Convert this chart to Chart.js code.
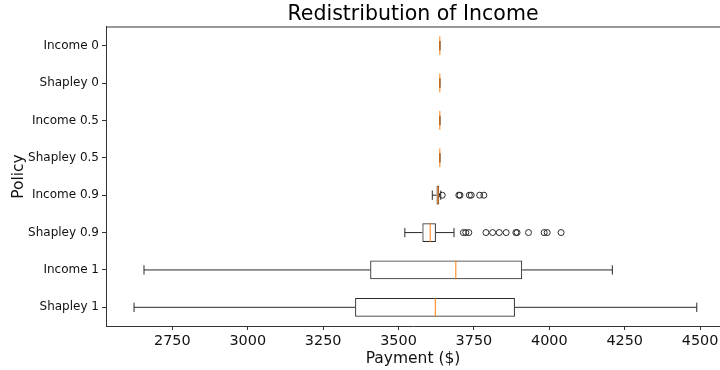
<!DOCTYPE html>
<html>
<head>
<meta charset="utf-8">
<script src="https://cdn.jsdelivr.net/npm/chart.js@4"></script>
<style>
  html, body { margin: 0; padding: 0; background: #fff; overflow: hidden; }
</style>
</head>
<body>
<canvas id="chart" width="720" height="370"></canvas>
<script>
const categories = ['Income 0', 'Shapley 0', 'Income 0.5', 'Shapley 0.5', 'Income 0.9', 'Shapley 0.9', 'Income 1', 'Shapley 1'];
const whiskerLow  = [3637, 3637, 3637, 3637, 3612, 3521, 2656, 2623];
const q1          = [3637, 3637, 3637, 3637, 3626, 3579, 3406, 3356];
const median      = [3637, 3637, 3637, 3637, 3631, 3605, 3690, 3622];
const q3          = [3637, 3637, 3637, 3637, 3635, 3624, 3910, 3886];
const whiskerHigh = [3637, 3637, 3637, 3637, 3640, 3684, 4209, 4489];
const outliersIncome09  = [3645, 3700, 3704, 3735, 3741, 3769, 3783];
const outliersShapley09 = [3715, 3723, 3733, 3790, 3812, 3834, 3857, 3889, 3893, 3931, 3983, 3993, 4039];
const xTicks = [2750, 3000, 3250, 3500, 3750, 4000, 4250, 4500];

const FONT = 'DejaVu Sans';
const EDGE = '#2a2a2a';

// whiskers, caps, medians and the top frame line (matplotlib style box)
const boxExtras = {
    id: 'boxExtras',
    afterDatasetsDraw(chart) {
        const { ctx, chartArea, scales: { x, y } } = chart;
        const bars = chart.getDatasetMeta(0).data;
        ctx.save();
        ctx.lineWidth = 1;
        categories.forEach((c, i) => {
            const cy = y.getPixelForValue(i);
            const h = bars[i].height;
            const cap = h / 4;
            const xl = x.getPixelForValue(whiskerLow[i]);
            const x1 = x.getPixelForValue(q1[i]);
            const x3 = x.getPixelForValue(q3[i]);
            const xh = x.getPixelForValue(whiskerHigh[i]);
            ctx.strokeStyle = EDGE;
            ctx.beginPath();
            ctx.moveTo(xl, cy); ctx.lineTo(x1, cy);
            ctx.moveTo(x3, cy); ctx.lineTo(xh, cy);
            ctx.moveTo(xl, cy - cap); ctx.lineTo(xl, cy + cap);
            ctx.moveTo(xh, cy - cap); ctx.lineTo(xh, cy + cap);
            ctx.stroke();
            const xm = x.getPixelForValue(median[i]);
            ctx.strokeStyle = '#ff7f0e';
            ctx.beginPath();
            ctx.moveTo(xm, cy - h / 2); ctx.lineTo(xm, cy + h / 2);
            ctx.stroke();
        });
        ctx.strokeStyle = '#333';
        ctx.beginPath();
        ctx.moveTo(chartArea.left, chartArea.top);
        ctx.lineTo(chartArea.right, chartArea.top);
        ctx.stroke();
        ctx.restore();
    }
};

new Chart(document.getElementById('chart'), {
    type: 'bar',
    data: {
        labels: categories,
        datasets: [{
            data: categories.map((c, i) => [q1[i], q3[i]]),
            backgroundColor: 'rgba(0,0,0,0)',
            borderColor: EDGE,
            borderWidth: 1,
            borderSkipped: false,
            barPercentage: 0.5,
            categoryPercentage: 1,
        }, {
            type: 'scatter',
            data: [
                ...outliersIncome09.map(v => ({ x: v, y: 'Income 0.9' })),
                ...outliersShapley09.map(v => ({ x: v, y: 'Shapley 0.9' })),
            ],
            pointStyle: 'circle',
            pointRadius: 3,
            pointBackgroundColor: 'rgba(0,0,0,0)',
            pointBorderColor: EDGE,
            pointBorderWidth: 1,
        }],
    },
    options: {
        indexAxis: 'y',
        responsive: false,
        animation: false,
        events: [],
        layout: { autoPadding: false, padding: 0 },
        plugins: {
            legend: { display: false },
            tooltip: { enabled: false },
            title: {
                display: true,
                text: 'Redistribution of Income',
                fullSize: false,
                color: '#000',
                font: { family: FONT, size: 20.5, weight: 'normal' },
                padding: { top: 2, bottom: 0.4 },
            },
        },
        scales: {
            x: {
                type: 'linear',
                min: 2530,
                max: 4566,
                afterBuildTicks: s => { s.ticks = xTicks.map(v => ({ value: v })); },
                afterFit: s => { s.height = 44; s.paddingLeft = 0; s.paddingRight = 0; },
                grid: { drawOnChartArea: false, tickLength: 4, color: '#333' },
                border: { color: '#333' },
                ticks: {
                    color: '#111',
                    padding: 3,
                    font: { family: FONT, size: 14.4 },
                    callback: v => String(v),
                },
                title: {
                    display: true,
                    text: 'Payment ($)',
                    color: '#111',
                    font: { family: FONT, size: 15.5 },
                    padding: { top: 0, bottom: 2 },
                },
            },
            y: {
                type: 'category',
                offset: true,
                afterFit: s => { s.width = 106; s.paddingTop = 0; s.paddingBottom = 0; },
                grid: { offset: false, drawOnChartArea: false, tickLength: 4, color: '#333' },
                border: { color: '#333' },
                ticks: {
                    color: '#111',
                    padding: 3,
                    font: { family: FONT, size: 12 },
                },
                title: {
                    display: true,
                    text: 'Policy',
                    color: '#111',
                    font: { family: FONT, size: 15.5 },
                    padding: { top: 10, bottom: 0 },
                },
            },
        },
    },
    plugins: [boxExtras],
});
</script>
</body>
</html>
